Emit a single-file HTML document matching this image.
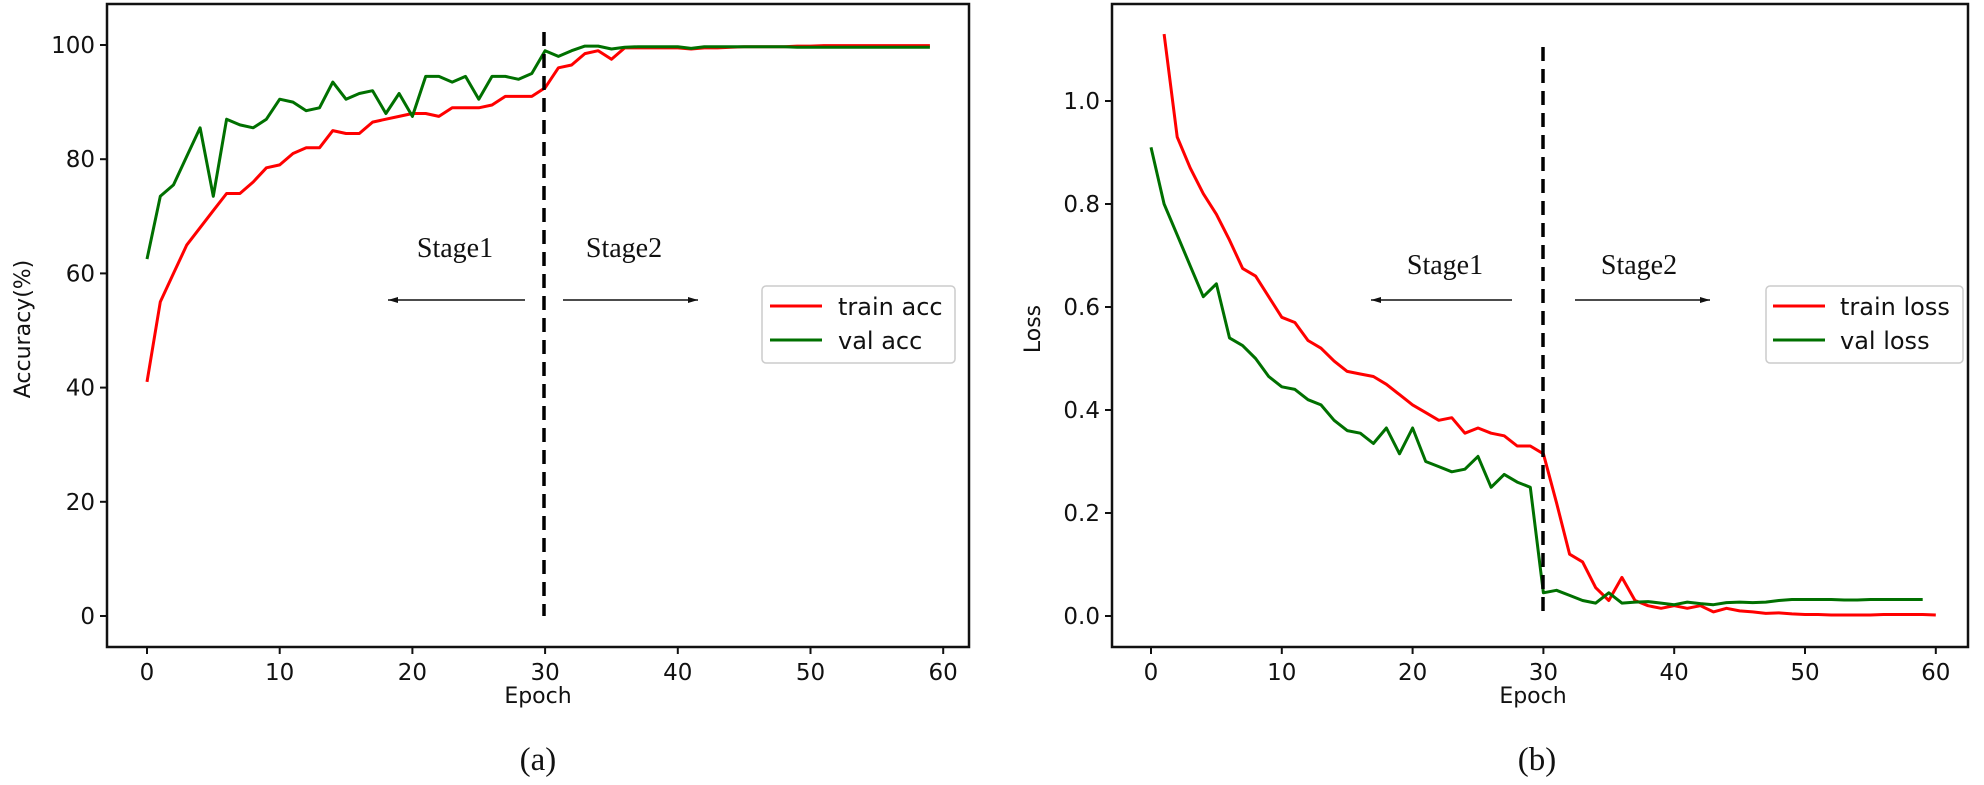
<!DOCTYPE html>
<html><head><meta charset="utf-8"><style>
html,body{margin:0;padding:0;background:#fff;}
svg{display:block;}
text{font-family:"DejaVu Sans","Liberation Sans",sans-serif;fill:#111;}
.serif{font-family:"Liberation Serif",serif;}
</style></head><body>
<svg id="s" width="1984" height="785" viewBox="0 0 1984 785" xmlns="http://www.w3.org/2000/svg">
<rect width="1984" height="785" fill="#fff"/>
<g id="g"></g>
</svg>
<script>
var g=document.getElementById('g');var h='';
function L(x1,y1,x2,y2,st){h+='<line x1="'+x1+'" y1="'+y1+'" x2="'+x2+'" y2="'+y2+'" '+st+'/>';}
function T(x,y,s,st){h+='<text x="'+x+'" y="'+y+'" '+st+'>'+s+'</text>';}
function P(pts,c){h+='<polyline fill="none" stroke="'+c+'" stroke-width="3" stroke-linejoin="round" points="'+pts.join(' ')+'"/>';}
var lx=function(e){return 147+e*13.27;}, ly=function(a){return 616-a*5.71;};
var tr=[41,55,60,65,68,71,74,74,76,78.5,79,81,82,82,85,84.5,84.5,86.5,87,87.5,88,88,87.5,89,89,89,89.5,91,91,91,92.5,96,96.5,98.5,99,97.5,99.5,99.5,99.5,99.5,99.5,99.3,99.5,99.5,99.6,99.7,99.7,99.7,99.7,99.8,99.8,99.9,99.9,99.9,99.9,99.9,99.9,99.9,99.9,99.9];
var va=[62.5,73.5,75.5,80.5,85.5,73.5,87,86,85.5,87,90.5,90,88.5,89,93.5,90.5,91.5,92,88,91.5,87.5,94.5,94.5,93.5,94.5,90.5,94.5,94.5,94,95,99,98,99,99.8,99.8,99.3,99.6,99.7,99.7,99.7,99.7,99.4,99.7,99.7,99.7,99.7,99.7,99.7,99.7,99.6,99.6,99.6,99.6,99.6,99.6,99.6,99.6,99.6,99.6,99.6];
P(tr.map(function(v,i){return lx(i).toFixed(1)+','+ly(v).toFixed(1)}),'#ff0000');
P(va.map(function(v,i){return lx(i).toFixed(1)+','+ly(v).toFixed(1)}),'#007000');
h+='<rect x="107" y="4" width="862" height="643" fill="none" stroke="#111" stroke-width="2.5"/>';
for(var k=0;k<=5;k++){var y=ly(k*20);L(100,y,107,y,'stroke="#111" stroke-width="2"');T(95,y+8,k*20,'font-size="23" text-anchor="end"');}
for(var k=0;k<=6;k++){var x=lx(k*10);L(x,647,x,654,'stroke="#111" stroke-width="2"');T(x,680,k*10,'font-size="23" text-anchor="middle"');}
L(544,32,544,616,'stroke="#000" stroke-width="3.5" stroke-dasharray="14,8"');
T(538,703,'Epoch','font-size="22" text-anchor="middle"');
T(538,770,'(a)','class="serif" font-size="33" text-anchor="middle"');
T(30,329,'Accuracy(%)','font-size="22" text-anchor="middle" transform="rotate(-90 30 329)"');
T(455,257,'Stage1','class="serif" font-size="28" text-anchor="middle"');
T(624,257,'Stage2','class="serif" font-size="28" text-anchor="middle"');
L(388,300,525,300,'stroke="#111" stroke-width="1.5"');h+='<path d="M388,300 l10,-3 v6z" fill="#111"/>';
L(563,300,698,300,'stroke="#111" stroke-width="1.5"');h+='<path d="M698,300 l-10,-3 v6z" fill="#111"/>';
h+='<rect x="762" y="286" width="193" height="77" rx="4" fill="#fff" stroke="#ccc" stroke-width="1.5"/>';
L(770,306,822,306,'stroke="#ff0000" stroke-width="3"');L(770,340,822,340,'stroke="#007000" stroke-width="3"');
T(838,315,'train acc','font-size="24"');T(838,349,'val acc','font-size="24"');
var rx=function(e){return 1151+e*13.08;}, ry=function(a){return 616-a*515;};
var tl=[null,1.13,0.93,0.87,0.82,0.78,0.73,0.675,0.66,0.62,0.58,0.57,0.535,0.52,0.495,0.475,0.47,0.465,0.45,0.43,0.41,0.395,0.38,0.385,0.355,0.365,0.355,0.35,0.33,0.33,0.315,0.22,0.12,0.105,0.055,0.03,0.075,0.03,0.02,0.015,0.02,0.015,0.02,0.008,0.015,0.01,0.008,0.005,0.006,0.004,0.003,0.003,0.002,0.002,0.002,0.002,0.003,0.003,0.003,0.003,0.002];
var vl=[0.91,0.80,0.74,0.68,0.62,0.645,0.54,0.525,0.50,0.465,0.445,0.44,0.42,0.41,0.38,0.36,0.355,0.335,0.365,0.315,0.365,0.30,0.29,0.28,0.285,0.31,0.25,0.275,0.26,0.25,0.045,0.05,0.04,0.03,0.025,0.045,0.025,0.027,0.028,0.025,0.022,0.027,0.024,0.022,0.026,0.027,0.026,0.027,0.03,0.032,0.032,0.032,0.032,0.031,0.031,0.032,0.032,0.032,0.032,0.032];
var a=[];tl.forEach(function(v,i){if(v!==null)a.push(rx(i).toFixed(1)+','+ry(v).toFixed(1))});P(a,'#ff0000');
P(vl.map(function(v,i){return rx(i).toFixed(1)+','+ry(v).toFixed(1)}),'#007000');
h+='<rect x="1112" y="4" width="856" height="643" fill="none" stroke="#111" stroke-width="2.5"/>';
for(var k=0;k<=5;k++){var y=ry(k*0.2);L(1105,y,1112,y,'stroke="#111" stroke-width="2"');T(1100,y+8,(k*0.2).toFixed(1),'font-size="23" text-anchor="end"');}
for(var k=0;k<=6;k++){var x=rx(k*10);L(x,647,x,654,'stroke="#111" stroke-width="2"');T(x,680,k*10,'font-size="23" text-anchor="middle"');}
L(1543,47,1543,616,'stroke="#000" stroke-width="3.5" stroke-dasharray="14,8"');
T(1533,703,'Epoch','font-size="22" text-anchor="middle"');
T(1537,770,'(b)','class="serif" font-size="33" text-anchor="middle"');
T(1040,329,'Loss','font-size="22" text-anchor="middle" transform="rotate(-90 1040 329)"');
T(1445,274,'Stage1','class="serif" font-size="28" text-anchor="middle"');
T(1639,274,'Stage2','class="serif" font-size="28" text-anchor="middle"');
L(1371,300,1512,300,'stroke="#111" stroke-width="1.5"');h+='<path d="M1371,300 l10,-3 v6z" fill="#111"/>';
L(1575,300,1710,300,'stroke="#111" stroke-width="1.5"');h+='<path d="M1710,300 l-10,-3 v6z" fill="#111"/>';
h+='<rect x="1766" y="286" width="197" height="77" rx="4" fill="#fff" stroke="#ccc" stroke-width="1.5"/>';
L(1773,306,1825,306,'stroke="#ff0000" stroke-width="3"');L(1773,340,1825,340,'stroke="#007000" stroke-width="3"');
T(1840,315,'train loss','font-size="24"');T(1840,349,'val loss','font-size="24"');
g.innerHTML=h;
</script>
</body></html>
